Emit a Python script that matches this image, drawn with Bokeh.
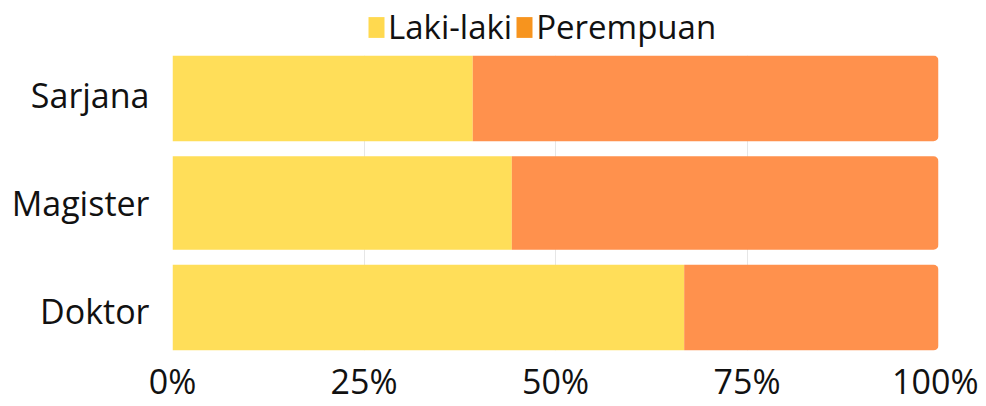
from bokeh.plotting import figure
from bokeh.layouts import column
from bokeh.models import Legend, LegendItem, FactorRange, NumeralTickFormatter, ColumnDataSource
from bokeh.embed import file_html
from bokeh.resources import INLINE

categories = ["Sarjana", "Magister", "Doktor"]
laki_laki = [0.392, 0.443, 0.668]
perempuan = [0.608, 0.557, 0.332]
x_ticks = [0, 0.25, 0.5, 0.75, 1.0]
series_labels = ["Laki-laki", "Perempuan"]

YELLOW = "#FFDE59"
ORANGE = "#FF914D"
FONT = "Open Sans"

cats_rev = categories[::-1]
src = ColumnDataSource(dict(cat=categories, laki=laki_laki, perempuan=perempuan))

# ---- legend strip ----
lg = figure(width=978, height=55, output_backend="svg", toolbar_location=None,
            x_range=(0, 1), y_range=(0, 1),
            min_border_left=0, min_border_right=0, min_border_top=0, min_border_bottom=0)
lg.outline_line_color = None
lg.axis.visible = False
lg.grid.visible = False
# off-range placeholder rows so the legend swatches get a colour
hidden = ColumnDataSource(dict(y=[-10], l=[-10], r=[-9]))
s1 = lg.hbar(y="y", left="l", right="r", height=0.5, source=hidden, color="#FFD94F", line_color=None)
s2 = lg.hbar(y="y", left="l", right="r", height=0.5, source=hidden, color="#F7941E", line_color=None)
legend = Legend(items=[LegendItem(label=series_labels[0], renderers=[s1]),
                       LegendItem(label=series_labels[1], renderers=[s2])],
                orientation="horizontal", location=(194, 6),
                label_text_font=FONT, label_text_font_size="33px", label_text_color="#111111",
                glyph_width=20, glyph_height=26, label_standoff=2, spacing=2,
                padding=0, margin=0, border_line_color=None, background_fill_alpha=0)
lg.add_layout(legend, "center")

# ---- main chart ----
p = figure(
    width=978, height=351, output_backend="svg", toolbar_location=None,
    y_range=FactorRange(*cats_rev, range_padding=-0.14, range_padding_units="absolute"),
    x_range=(0, 1),
    min_border_left=172, min_border_right=40, min_border_top=0, min_border_bottom=55,
)
p.outline_line_color = None

r1 = p.hbar_stack(["laki", "perempuan"], y="cat", height=0.86, source=src,
                  color=[YELLOW, ORANGE], line_color=None)
r1[1].glyph.border_radius = (0, 5, 5, 0)

p.xaxis.ticker = x_ticks
p.xaxis.formatter = NumeralTickFormatter(format="0%")
for ax in (p.xaxis, p.yaxis):
    ax.axis_line_color = None
    ax.major_tick_line_color = None
    ax.minor_tick_line_color = None
    ax.major_tick_out = 0
    ax.major_tick_in = 0
    ax.minor_tick_out = 0
    ax.minor_tick_in = 0
    ax.major_label_text_font = FONT
    ax.major_label_text_font_size = "34px"
    ax.major_label_text_color = "#111111"
p.xaxis.major_label_standoff = 7
p.yaxis.major_label_standoff = 23

p.ygrid.grid_line_color = None
p.xgrid.grid_line_color = "#E6E6E6"
p.xgrid.grid_line_width = 1

layout = column(lg, p, spacing=0)
open("out.html", "w").write(file_html(layout, INLINE))
